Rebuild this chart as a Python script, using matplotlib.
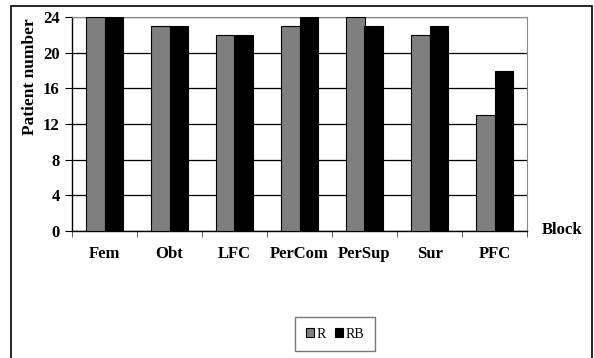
import numpy as np
import matplotlib.pyplot as plt
from matplotlib.patches import Rectangle

blocks = ['Fem', 'Obt', 'LFC', 'PerCom', 'PerSup', 'Sur', 'PFC']
r_counts = [24, 23, 22, 23, 24, 22, 13]
rb_counts = [24, 23, 22, 24, 23, 23, 18]

plt.rcParams['font.family'] = ['Liberation Serif', 'DejaVu Serif']

fig = plt.figure(figsize=(5.94, 3.58), dpi=100)
ax = fig.add_axes([72 / 594, 1 - 231 / 358, 455 / 594, 214 / 358])

# frame round the whole figure
fig.patches.append(Rectangle((11 / 594, -0.05), 581 / 594, 1.05 - 6 / 358,
                             transform=fig.transFigure, fill=False,
                             edgecolor='black', linewidth=1.2))

x = np.arange(len(blocks))
width = 0.29
ax.bar(x - width / 2, r_counts, width, color='#7f7f7f', edgecolor='black',
       linewidth=0.8, label='R', zorder=3)
ax.bar(x + width / 2, rb_counts, width, color='black', edgecolor='black',
       linewidth=0.8, label='RB', zorder=3)

ax.set_xlim(-0.5, len(blocks) - 0.5)
ax.set_ylim(0, 24)
ax.set_yticks(range(0, 25, 4))
ax.yaxis.grid(True, color='black', linewidth=0.9, zorder=0)

ax.set_xticks(x)
ax.set_xticklabels(blocks, fontweight='bold', fontsize=12)
ax.set_xticks(np.arange(-0.5, len(blocks), 1), minor=True)
ax.tick_params(axis='x', which='major', length=0, pad=11)
ax.tick_params(axis='x', which='minor', length=4, direction='out', color='#444444')
ax.tick_params(axis='y', length=5, direction='out', labelsize=12, pad=4)
for lbl in ax.get_yticklabels():
    lbl.set_fontweight('bold')

for side in ['top', 'right']:
    ax.spines[side].set_color('#888888')
    ax.spines[side].set_linewidth(0.8)
ax.spines['left'].set_linewidth(1.0)
ax.spines['bottom'].set_linewidth(1.0)

fig.text(30 / 594, 1 - 77 / 358, 'Patient number', fontweight='bold',
         fontsize=12.5, rotation=90, ha='center', va='center')
fig.text(562 / 594, 1 - 230 / 358, 'Block', fontweight='bold', fontsize=12,
         ha='center', va='center')

fig.legend(loc='center', bbox_to_anchor=(335 / 594, 1 - 334 / 358), ncol=2,
           frameon=True, fancybox=False, edgecolor='#555555', fontsize=10,
           handlelength=0.6, handleheight=0.6, handletextpad=0.2,
           columnspacing=0.6, borderpad=0.75)

plt.savefig('out.png', dpi=100)
